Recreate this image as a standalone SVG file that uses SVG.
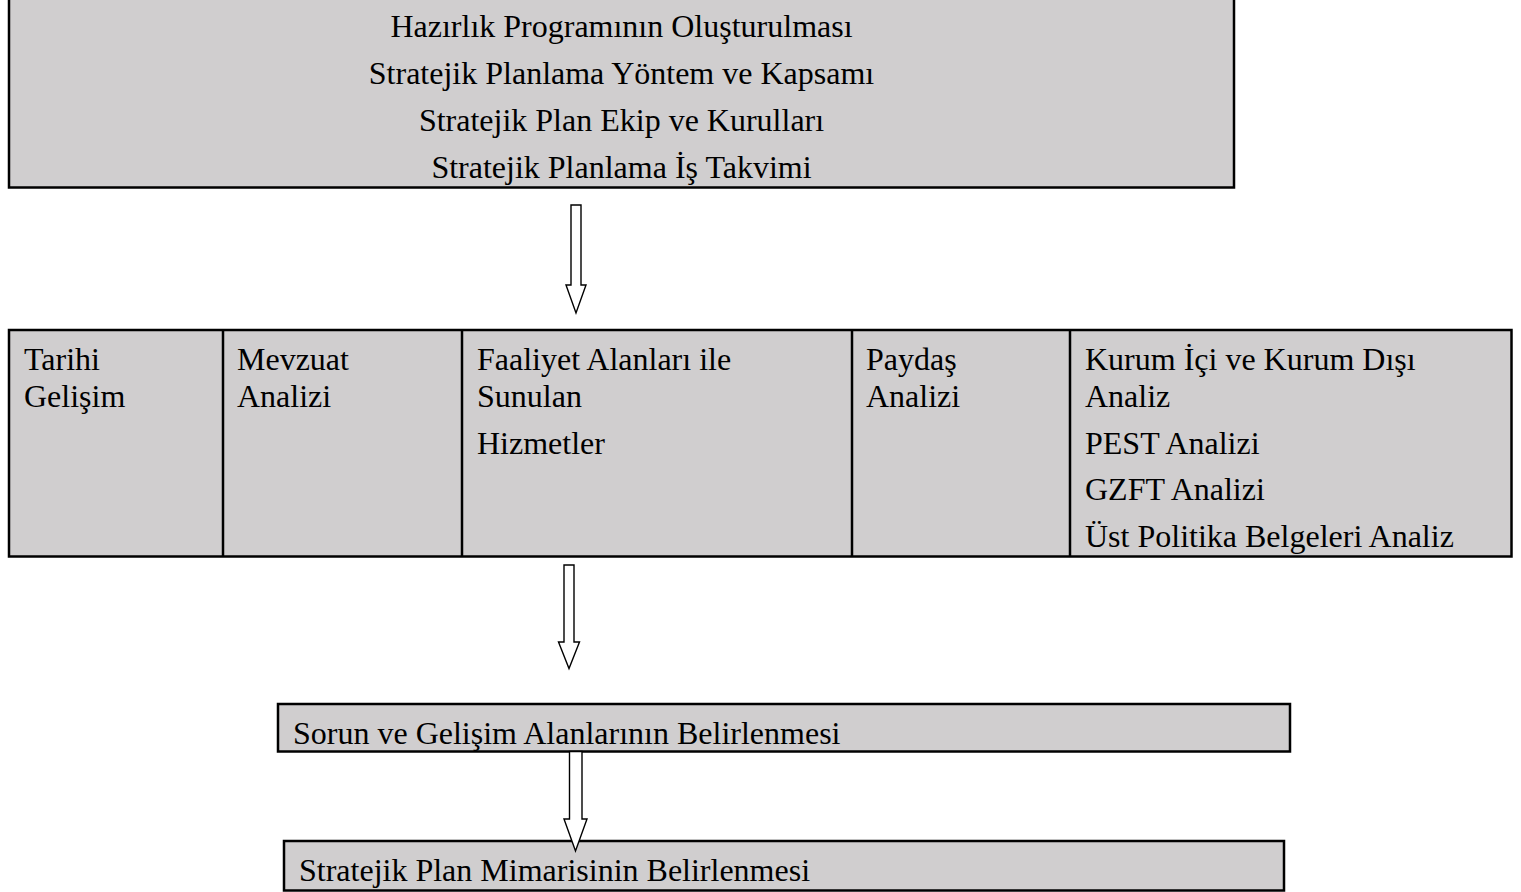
<svg xmlns="http://www.w3.org/2000/svg" width="1521" height="892" viewBox="0 0 1521 892">
<style>
.box{fill:#d0cecf;stroke:#000;stroke-width:2.5}
.sep{stroke:#000;stroke-width:2.5}
.t{font-family:"Liberation Serif","Times New Roman",serif;font-size:32px;fill:#000}
.c{text-anchor:middle}
.arr{fill:#fff;stroke:#000;stroke-width:1.4;stroke-linejoin:miter}
</style>
<rect width="1521" height="892" fill="#fff"/>
<g id="node-hazirlik">
<rect class="box" x="9" y="-5" width="1225" height="192.5"/>
<text class="t c" x="621.5" y="37">Hazırlık Programının Oluşturulması</text>
<text class="t c" x="621.5" y="84">Stratejik Planlama Yöntem ve Kapsamı</text>
<text class="t c" x="621.5" y="131">Stratejik Plan Ekip ve Kurulları</text>
<text class="t c" x="621.5" y="178">Stratejik Planlama İş Takvimi</text>
</g>
<g id="node-analiz">
<rect class="box" x="9" y="330" width="1502.5" height="226.5"/>
<line class="sep" x1="223" y1="330" x2="223" y2="556.5"/>
<line class="sep" x1="462" y1="330" x2="462" y2="556.5"/>
<line class="sep" x1="852" y1="330" x2="852" y2="556.5"/>
<line class="sep" x1="1070" y1="330" x2="1070" y2="556.5"/>
<g id="cell-tarihi">
<text class="t" x="24" y="370">Tarihi</text>
<text class="t" x="24" y="407">Gelişim</text>
</g>
<g id="cell-mevzuat">
<text class="t" x="237" y="370">Mevzuat</text>
<text class="t" x="237" y="407">Analizi</text>
</g>
<g id="cell-faaliyet">
<text class="t" x="477" y="370">Faaliyet Alanları ile</text>
<text class="t" x="477" y="407">Sunulan</text>
<text class="t" x="477" y="454">Hizmetler</text>
</g>
<g id="cell-paydas">
<text class="t" x="866" y="370">Paydaş</text>
<text class="t" x="866" y="407">Analizi</text>
</g>
<g id="cell-kurum">
<text class="t" x="1085" y="370">Kurum İçi ve Kurum Dışı</text>
<text class="t" x="1085" y="407">Analiz</text>
<text class="t" x="1085" y="454">PEST Analizi</text>
<text class="t" x="1085" y="500">GZFT Analizi</text>
<text class="t" x="1085" y="547">Üst Politika Belgeleri Analiz</text>
</g>
</g>
<g id="node-sorun">
<rect class="box" x="278" y="704" width="1012" height="47.5"/>
<text class="t" x="293" y="744">Sorun ve Gelişim Alanlarının Belirlenmesi</text>
</g>
<g id="node-mimari">
<rect class="box" x="284" y="841" width="1000" height="49.5"/>
<text class="t" x="299" y="881">Stratejik Plan Mimarisinin Belirlenmesi</text>
</g>
<g id="connectors">
<polygon class="arr" points="571,205 581,205 581,285 586,285 576,313 566,285 571,285"/>
<polygon class="arr" points="564,565 574,565 574,642 579.5,642 569,668.5 558.5,642 564,642"/>
<polygon class="arr" points="569.5,751.5 582,751.5 582,819 587,819 575.5,851 564,819 569.5,819"/>
</g>
</svg>
